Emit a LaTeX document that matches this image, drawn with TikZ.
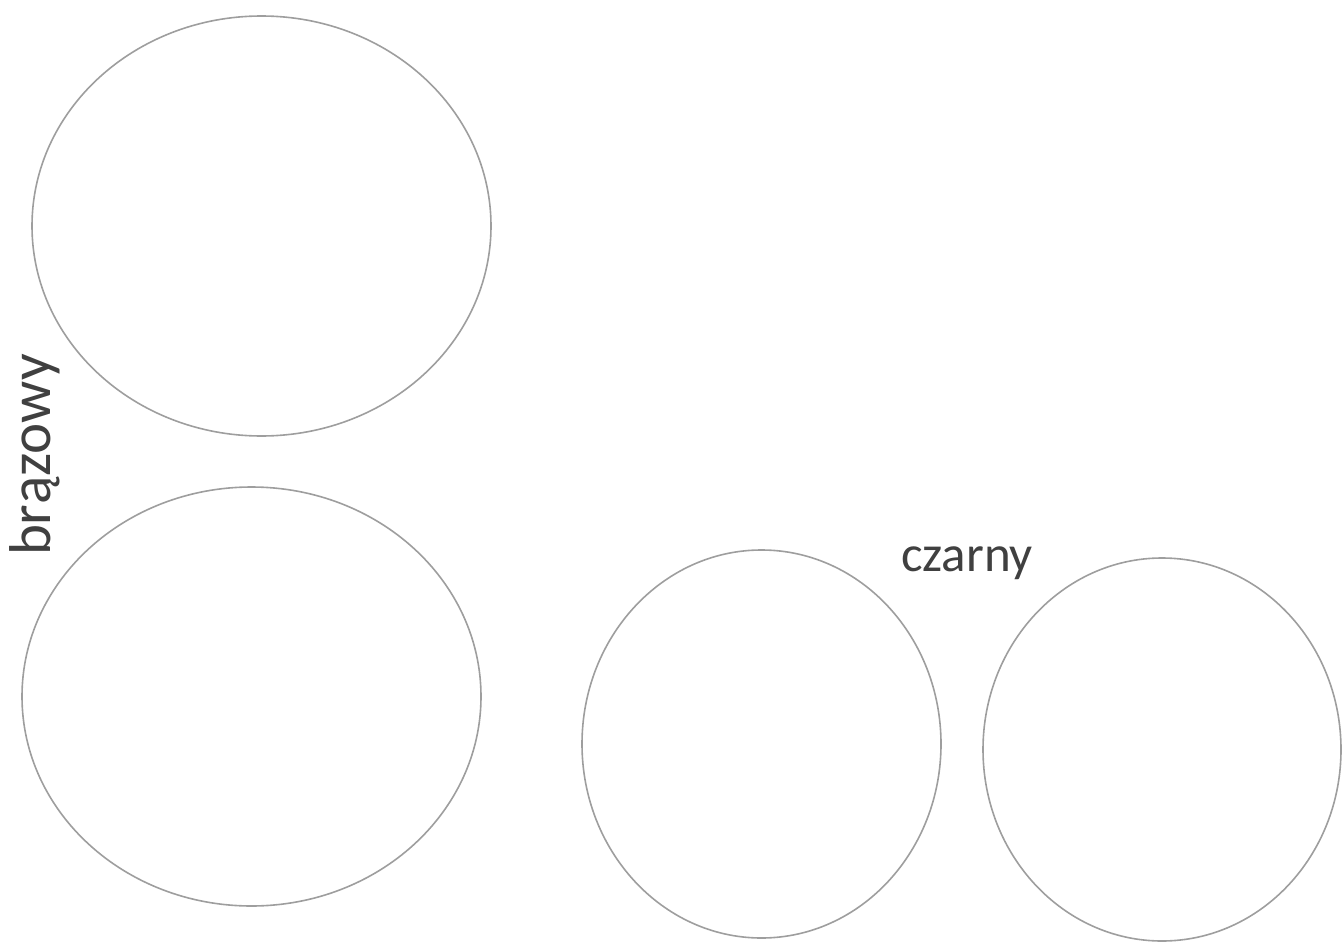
\documentclass[tikz,border=0pt]{standalone}
\usepackage{fontspec}
\setmainfont{Carlito}
\begin{document}
\begin{tikzpicture}[x=1pt,y=-1pt,
  ring/.style={draw=black!38, line width=1.6pt},
  lbl/.style={text=black!75, inner sep=0pt}]
\useasboundingbox (0,0) rectangle (1342,942);
\draw[ring] (261.5,226) ellipse [x radius=229.5, y radius=210];
\draw[ring] (251.5,696.5) ellipse [x radius=229.5, y radius=209.5];
\draw[ring] (761.5,744) ellipse [x radius=179.5, y radius=194];
\draw[ring] (1162,749.5) ellipse [x radius=179, y radius=191.5];
\node[lbl, rotate=90, font=\fontsize{59}{70}\selectfont] (b) at (35,455) {brązowy};
\node[lbl, font=\fontsize{51}{60}\selectfont] (c) at (967,563) {czarny};
\end{tikzpicture}
\end{document}
